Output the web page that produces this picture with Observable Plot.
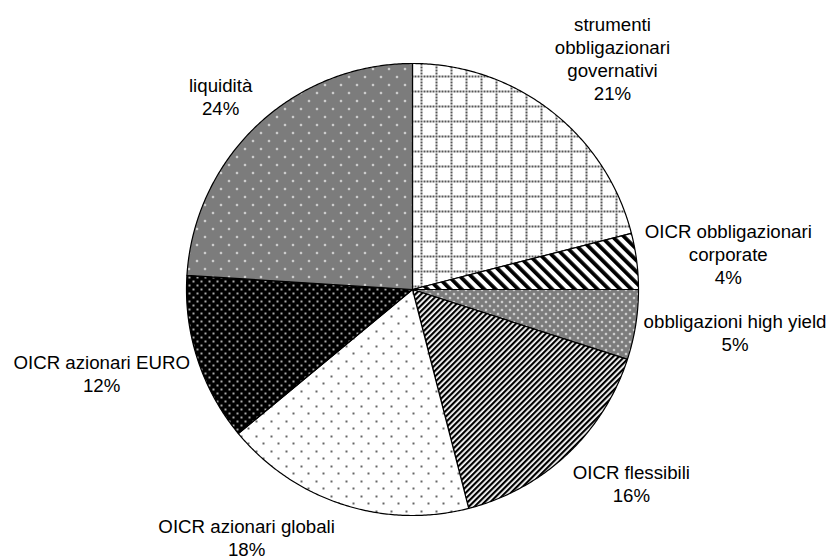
<!DOCTYPE html>
<html><head><meta charset="utf-8">
<script src="https://cdn.jsdelivr.net/npm/d3@7"></script>
<script src="https://cdn.jsdelivr.net/npm/@observablehq/plot@0.6"></script>
<style>body{margin:0;background:#fff}</style>
</head><body><div id="chart"></div>
<script>
// ---- data ----
const categories = [
  "strumenti\nobbligazionari\ngovernativi",
  "OICR obbligazionari\ncorporate",
  "obbligazioni high yield",
  "OICR flessibili",
  "OICR azionari globali",
  "OICR azionari EURO",
  "liquidità"
];
const shares = [21, 4, 5, 16, 18, 12, 24];
const patternIds = ["pGov", "pCorp", "pHy", "pFless", "pGlob", "pEuro", "pLiq"];

// ---- layout ----
const W = 830, H = 559, CX = 412, CY = 289, R = 226;
const FONT_SIZE = 18.7, LINE_H = 23, FONT = "Liberation Sans, Arial, sans-serif";

const total = d3.sum(shares);
let acc = 0;
const slices = categories.map((name, i) => {
  const a0 = acc / total * 2 * Math.PI; acc += shares[i];
  const a1 = acc / total * 2 * Math.PI;
  return {name, share: shares[i], a0, a1};
});
const slicePoints = slices.map(s => {
  const pts = [{x: 0, y: 0}];
  const n = Math.max(2, Math.ceil((s.a1 - s.a0) / (Math.PI / 360)));
  for (let k = 0; k <= n; k++) {
    const a = s.a0 + (s.a1 - s.a0) * k / n;
    pts.push({x: Math.sin(a), y: Math.cos(a)});
  }
  return pts;
});

// label placement (Excel-like: outside end, box corner near the slice midpoint)
const ctx = document.createElement("canvas").getContext("2d");
ctx.font = `${FONT_SIZE}px "Liberation Sans"`;
const clamp = (v) => Math.max(-1, Math.min(1, v));
const labelData = slices.map(s => {
  const text = `${s.name}\n${s.share}%`;
  const lines = text.split("\n");
  const hw = d3.max(lines, l => ctx.measureText(l).width) / 2;
  const hh = lines.length * LINE_H / 2;
  const mid = (s.a0 + s.a1) / 2, sn = Math.sin(mid), cs = Math.cos(mid);
  const gap = 8;
  let cx = R * sn + gap * sn + clamp(sn * 1.6) * hw;
  let cy = -R * cs - gap * cs - clamp(cs * 1.6) * hh;
  const limit = (H - CY) - 6;
  if (cy + hh > limit) {
    // label would run out of the chart area: pin it to the bottom, slide it round the pie
    cy = (H - CY) + 1 - hh;
    const top = cy - hh, rr = R + 12;
    const dx = Math.sqrt(Math.max(0, rr * rr - top * top));
    cx = sn < 0 ? -dx - hw : dx + hw;
  }
  return {x: cx / R, y: -cy / R, text};
});

const chart = Plot.plot({
  width: W, height: H, margin: 0,
  style: {fontFamily: FONT, background: "white"},
  x: {domain: [-CX / R, (W - CX) / R], axis: null},
  y: {domain: [-(H - CY) / R, CY / R], axis: null},
  marks: [
    ...slices.map((s, i) => Plot.line(slicePoints[i], {
      x: "x", y: "y", curve: "linear-closed",
      fill: `url(#${patternIds[i]})`, stroke: "black", strokeWidth: 1.2, strokeLinejoin: "round"
    })),
    Plot.text(labelData, {
      x: "x", y: "y", text: "text", fontSize: FONT_SIZE, lineHeight: LINE_H / FONT_SIZE,
      textAnchor: "middle", lineAnchor: "middle", fill: "black"
    })
  ]
});

// ---- patterns ----
function rects(list, fill) { return list.map(([x, y, w, h]) => `<rect x="${x}" y="${y}" width="${w}" height="${h}" fill="${fill}"/>`).join(""); }
function cross(cx, cy, fill) { return rects([[cx - 1, cy, 3, 1], [cx, cy - 1, 1, 3]], fill); }
let gov = [];
for (let k = 0; k < 15; k += 3) { gov.push([0, k, 2, 2]); if (k > 0) gov.push([k, 0, 2, 2]); }
const defs = `
<pattern id="pChk" patternUnits="userSpaceOnUse" width="2" height="2">
  <rect width="2" height="2" fill="#c4c4c4"/>${rects([[0,0,1,1],[1,1,1,1]], "#333")}
</pattern>
<pattern id="pGov" patternUnits="userSpaceOnUse" width="15" height="15">
  <rect width="15" height="15" fill="#fff"/>${rects(gov, "#555")}
</pattern>
<pattern id="pCorp" patternUnits="userSpaceOnUse" width="8" height="8" patternTransform="rotate(-45)">
  <rect width="8" height="8" fill="#fff"/><rect width="3.8" height="8" fill="#000"/>
</pattern>
<pattern id="pHy" patternUnits="userSpaceOnUse" width="8" height="8">
  <rect width="8" height="8" fill="url(#pChk)"/>${cross(1, 1, "#fff")}${cross(5, 5, "#fff")}
</pattern>
<pattern id="pFless" patternUnits="userSpaceOnUse" width="4" height="4" patternTransform="rotate(45)">
  <rect width="4" height="4" fill="#fff"/><rect width="2.2" height="4" fill="#000"/>
</pattern>
<pattern id="pGlob" patternUnits="userSpaceOnUse" width="15" height="15">
  <rect width="15" height="15" fill="#fff"/>${rects([[0,0,2,2],[7,7,2,2]], "#666")}
</pattern>
<pattern id="pEuro" patternUnits="userSpaceOnUse" width="8" height="8">
  <rect width="8" height="8" fill="#000"/>${rects([[0,0,2,2],[4,4,2,2]], "#aaa")}
</pattern>
<pattern id="pLiq" patternUnits="userSpaceOnUse" width="16" height="16">
  <rect width="16" height="16" fill="url(#pChk)"/>${cross(4, 4, "#fff")}${cross(12, 12, "#fff")}
</pattern>`;
d3.select(chart).insert("defs", ":first-child").html(defs);
document.getElementById("chart").appendChild(chart);
</script>
</body></html>
